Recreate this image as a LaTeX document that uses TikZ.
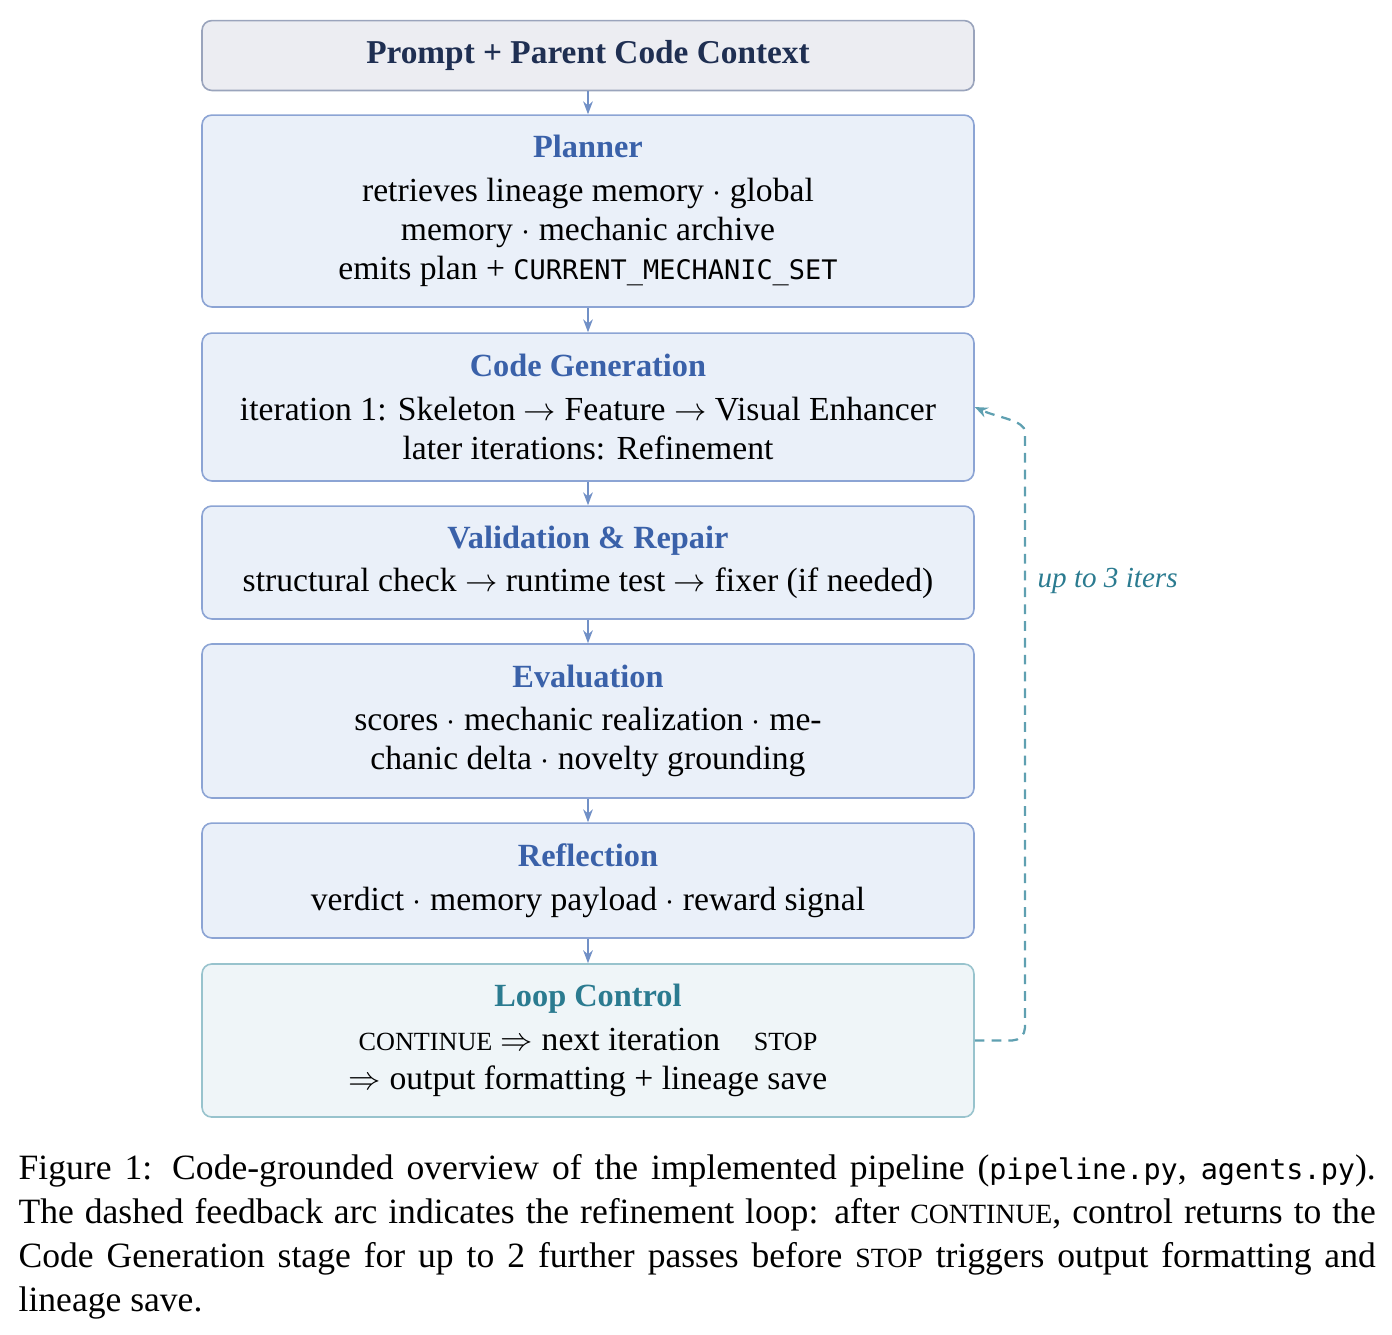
\documentclass[tikz,border=0pt]{standalone}
\usepackage{fontspec}
\setmainfont{Liberation Serif}
\setmonofont{DejaVu Sans Mono}[Scale=0.8]
\usepackage{amsmath}
\usetikzlibrary{arrows.meta, positioning}

\definecolor{ctxfill}{HTML}{ECEDF2}
\definecolor{ctxdraw}{HTML}{9AA4BC}
\definecolor{ctxtext}{HTML}{1F2F52}
\definecolor{stagefill}{HTML}{EAF0F9}
\definecolor{stagedraw}{HTML}{8CA4D4}
\definecolor{stagetitle}{HTML}{3A61A9}
\definecolor{loopfill}{HTML}{EFF5F8}
\definecolor{loopdraw}{HTML}{98C3CD}
\definecolor{looptitle}{HTML}{2B7B90}
\definecolor{flowline}{HTML}{7190C6}
\definecolor{backline}{HTML}{5FA0B1}

\newcommand{\stagehead}[2][stagetitle]{{\fontsize{10}{12}\selectfont\bfseries\color{#1}#2}\\[1.4pt]}
\newcommand{\fakesc}[1]{{\fontsize{8.1}{12}\selectfont #1}}
\newcommand{\capsc}[1]{{\fontsize{8.6}{13.6}\selectfont #1}}

\tikzset{
  stage/.style={draw=stagedraw, fill=stagefill, rounded corners=3pt, line width=0.5pt,
    minimum width=238.6pt, align=center, inner sep=0pt, font=\fontsize{10.4}{12.06}\selectfont},
  loopstage/.style={stage, draw=loopdraw, fill=loopfill},
  backflow/.style={draw=backline, line width=0.7pt, dash pattern=on 3pt off 2.2pt,
    -{Stealth[length=4pt,width=3.2pt]}},
}

\begin{document}
\begin{tikzpicture}[x=0.3091pt, y=0.3091pt]
  \useasboundingbox (0,0) rectangle (1392,-1334);
  \begin{scope}
    \node[stage, draw=ctxdraw, fill=ctxfill, minimum height=21.6pt, text=ctxtext,
      font=\fontsize{10.3}{12}\selectfont\bfseries] (ctx) at (588,-55.5) {Prompt + Parent Code Context};
    \node[stage, minimum height=59.3pt] (plan) at (588,-211)
      {\stagehead{Planner} retrieves lineage memory $\cdot$ global\\ memory $\cdot$ mechanic archive\\
       emits plan + \texttt{CURRENT\_MECHANIC\_SET}};
    \node[stage, minimum height=45.7pt] (gen) at (588,-407)
      {\stagehead{Code Generation} iteration 1: Skeleton $\rightarrow$ Feature $\rightarrow$ Visual Enhancer\\
       later iterations: Refinement};
    \node[stage, minimum height=34.9pt] (val) at (588,-562.5)
      {\stagehead{Validation \& Repair} structural check $\rightarrow$ runtime test $\rightarrow$ fixer (if needed)};
    \node[stage, minimum height=47.6pt] (eval) at (588,-721)
      {\stagehead{Evaluation} scores $\cdot$ mechanic realization $\cdot$ me-\\
       chanic delta $\cdot$ novelty grounding};
    \node[stage, minimum height=35.5pt] (refl) at (588,-880.5)
      {\stagehead{Reflection} verdict $\cdot$ memory payload $\cdot$ reward signal};
    \node[loopstage, minimum height=47.3pt] (loop) at (588,-1040.5)
      {\stagehead[looptitle]{Loop Control} \fakesc{CONTINUE} $\Rightarrow$ next iteration\quad\fakesc{STOP}\\
       $\Rightarrow$ output formatting + lineage save};
  \end{scope}
  \begin{scope}[every edge/.style={draw=flowline, line width=0.6pt, -{Stealth[length=4pt,width=3pt]}}]
    \path (ctx) edge (plan);
    \path (plan) edge (gen);
    \path (gen) edge (val);
    \path (val) edge (eval);
    \path (eval) edge (refl);
    \path (refl) edge (loop);
  \end{scope}
  % feedback arc back to code generation
  \coordinate (turn) at (1025,-1040.5);
  \coordinate (rise) at (1025,-445);
  \draw[backflow, rounded corners=4pt] (loop.east) -- (turn) -- (rise) to[out=90, in=-25] (gen.east);
  \node[anchor=west, inner sep=0pt, text=looptitle, font=\fontsize{9}{11}\selectfont\itshape] (iters)
    at (1037,-581) {up to 3 iters};
  \node[anchor=north west, inner sep=0pt, text width=419.5pt, align=justify,
    font=\fontsize{11}{13.6}\selectfont] (caption) at (18,-1154)
    {Figure 1: Code-grounded overview of the implemented pipeline (\texttt{pipeline.py}, \texttt{agents.py}).\linebreak
     The dashed feedback arc indicates the refinement loop: after \capsc{CONTINUE}, control returns to the\linebreak
     Code Generation stage for up to 2 further passes before \capsc{STOP} triggers output formatting and\linebreak
     lineage save.};
\end{tikzpicture}
\end{document}
